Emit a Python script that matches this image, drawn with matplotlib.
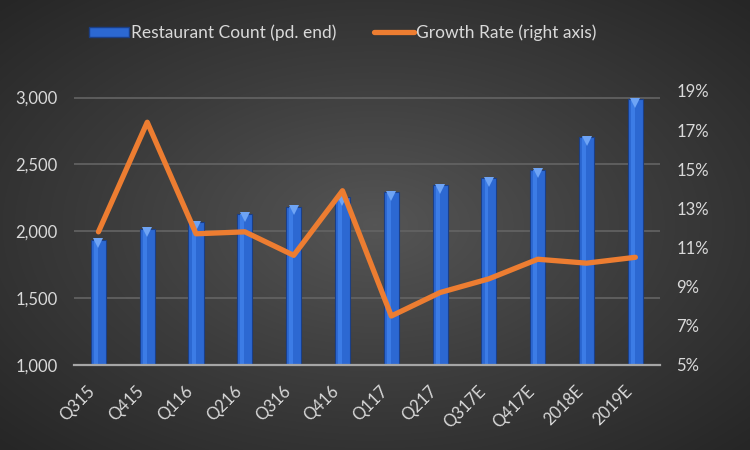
import matplotlib.pyplot as plt
import numpy as np
from matplotlib.patches import Patch
from matplotlib.lines import Line2D
from matplotlib.colors import LinearSegmentedColormap
from matplotlib.ticker import FuncFormatter

plt.rcParams['font.family'] = ['Lato', 'DejaVu Sans']

# Data
quarters = ['Q315', 'Q415', 'Q116', 'Q216', 'Q316', 'Q416',
            'Q117', 'Q217', 'Q317E', 'Q417E', '2018E', '2019E']
restaurant_count = [1935, 2015, 2067, 2129, 2181, 2253,
                    2291, 2343, 2395, 2457, 2702, 2986]
growth_rate = [11.8, 17.4, 11.7, 11.8, 10.6, 13.9,
               7.5, 8.7, 9.4, 10.4, 10.2, 10.5]

TEXT = '#d9d9d9'
BLUE = '#2c68d2'
BLUE_EDGE = '#1b3f86'
BLUE_TOP = '#6ea4f5'
ORANGE = '#ed7d31'
GRID = '#646464'

fig = plt.figure(figsize=(7.5, 4.5), dpi=100)

# radial grey background
bg = fig.add_axes([0, 0, 1, 1], zorder=-10)
yy, xx = np.mgrid[-1:1:450j, -1:1:750j]
r = np.sqrt(xx ** 2 + yy ** 2) / np.sqrt(2)
bg.imshow(r, cmap=LinearSegmentedColormap.from_list(
    'bg', ['#555555', '#3c3c3c', '#262626']), aspect='auto',
    extent=[0, 1, 0, 1], vmin=0, vmax=1)
bg.axis('off')

ax = fig.add_axes([0.0987, 0.189, 0.781, 0.609])
ax.set_facecolor('none')
x = np.arange(len(quarters))

ax.bar(x, restaurant_count, width=0.31, color=BLUE, edgecolor=BLUE_EDGE,
       linewidth=0.8, zorder=2)
ax.bar(x - 0.05, restaurant_count, width=0.08, color='#3c7ce6',
       linewidth=0, zorder=2)
ax.plot(x, np.array(restaurant_count) - 24, 'v', color=BLUE_TOP,
        markersize=7, markeredgewidth=0, zorder=3)

ax.set_xlim(-0.5, len(quarters) - 0.5)
ax.set_ylim(1000, 3050)
ax.set_yticks(np.arange(1000, 3001, 500))
ax.yaxis.set_major_formatter(FuncFormatter(lambda v, p: f'{v:,.0f}'))
ax.grid(axis='y', color=GRID, linewidth=1.2, zorder=0)
ax.set_axisbelow(True)
for s in ['top', 'right', 'left']:
    ax.spines[s].set_visible(False)
ax.spines['bottom'].set_color('#a6a6a6')
ax.spines['bottom'].set_linewidth(1.6)
ax.set_xticks(x)
ax.set_xticklabels(quarters, rotation=45, ha='right')
ax.tick_params(axis='x', length=0, pad=13, colors=TEXT, labelsize=12)
ax.tick_params(axis='y', length=0, pad=12, colors=TEXT, labelsize=12)

ax2 = ax.twinx()
ax2.plot(x, growth_rate, color=ORANGE, linewidth=3.8,
         solid_capstyle='round', solid_joinstyle='round', zorder=4)
ax2.set_ylim(5, 19)
ax2.set_yticks(np.arange(5, 20, 2))
ax2.yaxis.set_major_formatter(FuncFormatter(lambda v, p: f'{v:.0f}%'))
ax2.tick_params(axis='y', length=0, pad=12, colors=TEXT, labelsize=12)
for s in ax2.spines.values():
    s.set_visible(False)

handles = [Patch(facecolor=BLUE, edgecolor=BLUE_EDGE),
           Line2D([0], [0], color=ORANGE, linewidth=3.8, solid_capstyle='round')]
fig.legend(handles, ['Restaurant Count (pd. end)', 'Growth Rate (right axis)'],
           loc='center', bbox_to_anchor=(0.457, 0.927), ncol=2, frameon=False,
           fontsize=12.5, labelcolor=TEXT, handlelength=2.3, handleheight=0.55,
           handletextpad=0.1, columnspacing=2.2)

fig.savefig('out.png', dpi=100)
